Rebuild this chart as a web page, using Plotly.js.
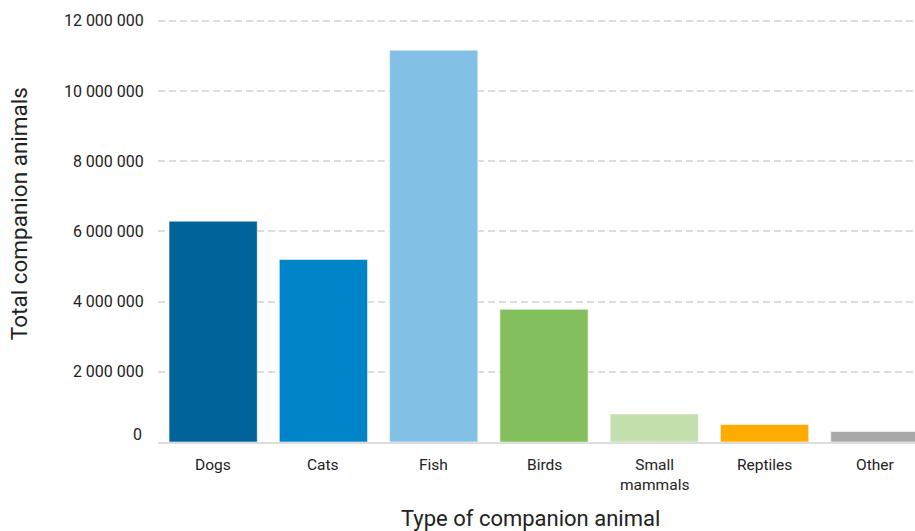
<!DOCTYPE html>
<html>
<head>
<meta charset="utf-8">
<script src="https://cdn.plot.ly/plotly-3.0.1.min.js"></script>
<style>
  html, body { margin: 0; padding: 0; overflow: hidden; background: #fff; }
  #chart { width: 940px; height: 531px; }
</style>
</head>
<body>
<div id="chart"></div>
<script>
// ---- data ----
const categories = ['Dogs', 'Cats', 'Fish', 'Birds', 'Small mammals', 'Reptiles', 'Other'];
const tickLabels = ['Dogs', 'Cats', 'Fish', 'Birds', 'Small<br>mammals', 'Reptiles', 'Other'];
const values = [6290000, 5200000, 11160000, 3780000, 800000, 500000, 300000];
const barColors = ['#00639A', '#0084C9', '#82C1E5', '#84BF5D', '#C2DFAD', '#FFAC00', '#A8A8A8'];
const yTickVals = [2000000, 4000000, 6000000, 8000000, 10000000, 12000000];
const xTitle = 'Type of companion animal';
const yTitle = 'Total companion animals';

const FONT = 'Roboto, "Noto Sans", Arial, sans-serif';
const TXT = '#222222';

const trace = {
  type: 'bar',
  x: categories,
  y: values,
  width: 0.8,
  marker: { color: barColors, line: { color: 'rgba(255,255,255,0.55)', width: 1 } },
  hoverinfo: 'x+y'
};

const annotations = [];
// category labels
tickLabels.forEach((label, i) => {
  annotations.push({
    x: categories[i], xref: 'x', y: 0, yref: 'paper',
    xanchor: 'center', yanchor: 'top', yshift: -11.5,
    text: label, showarrow: false, align: 'center',
    font: { family: FONT, size: 15.5, color: TXT }
  });
});
// zero label
annotations.push({
  x: 0, xref: 'paper', y: 0, yref: 'y', xanchor: 'right', yanchor: 'middle',
  xshift: -14, yshift: 8, text: '0', showarrow: false,
  font: { family: FONT, size: 16, color: TXT }
});
// axis titles
annotations.push({
  x: 0.4819, xref: 'paper', y: 0, yref: 'paper', xanchor: 'center', yanchor: 'top',
  yshift: -62, text: xTitle, showarrow: false,
  font: { family: FONT, size: 22, color: TXT }
});
annotations.push({
  x: -0.18, xref: 'paper', y: 0.5388, yref: 'paper', xanchor: 'center', yanchor: 'middle',
  textangle: -90, text: yTitle, showarrow: false,
  font: { family: FONT, size: 22.5, color: TXT }
});

const layout = {
  width: 940,
  height: 531,
  margin: { l: 158, r: 10, t: 19, b: 89 },
  paper_bgcolor: '#ffffff',
  plot_bgcolor: '#ffffff',
  separators: '. ',
  showlegend: false,
  font: { family: FONT, color: TXT },
  xaxis: {
    type: 'category',
    showticklabels: false,
    ticks: '',
    showgrid: false,
    showline: true,
    linecolor: '#DDDDDD',
    linewidth: 2,
    zeroline: false,
    fixedrange: true
  },
  yaxis: {
    range: [0, 12048000],
    tickvals: yTickVals,
    tickformat: ',d',
    ticks: 'outside',
    ticklen: 10,
    tickcolor: 'rgba(0,0,0,0)',
    tickfont: { family: FONT, size: 16, color: TXT },
    showgrid: true,
    gridcolor: '#DDDDDD',
    gridwidth: 2,
    griddash: '7px,4px',
    zeroline: false,
    showline: false,
    fixedrange: true
  },
  annotations: annotations
};

Plotly.newPlot('chart', [trace], layout, { displayModeBar: false, staticPlot: true });
</script>
</body>
</html>
